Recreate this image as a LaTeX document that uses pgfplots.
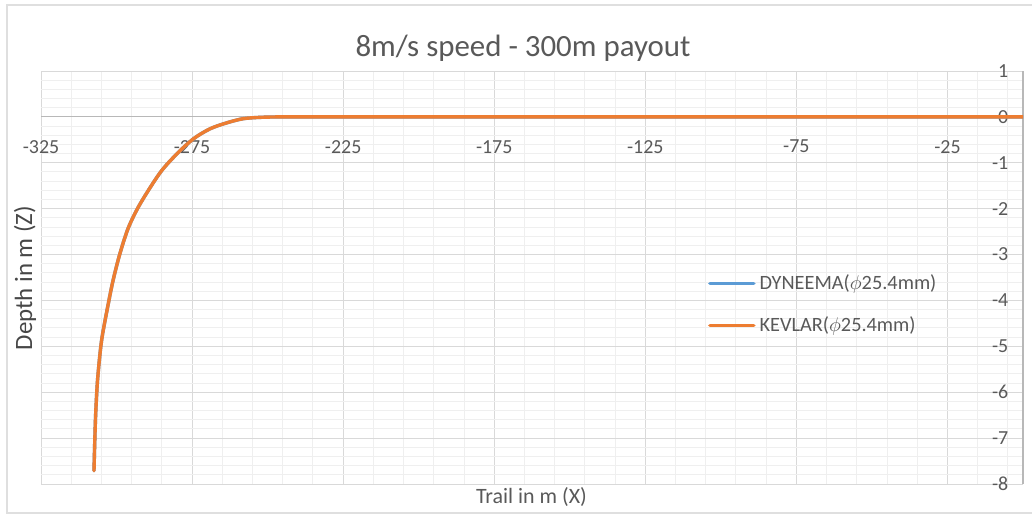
\documentclass[border=0pt]{standalone}
\usepackage{fontspec}
\setmainfont{Carlito}
\usepackage{pgfplots}
\pgfplotsset{compat=1.18}
\definecolor{txt}{HTML}{595959}
\definecolor{majgrid}{HTML}{D9D9D9}
\definecolor{mingrid}{HTML}{EFEFEF}
\definecolor{dyblue}{HTML}{5B9BD5}
\definecolor{kvorange}{HTML}{ED7D31}

\begin{document}
\begin{tikzpicture}
\useasboundingbox (0,0) rectangle (516bp,257bp);
\draw[gray!25, line width=1bp] (3.5bp,0.5bp) rectangle (520bp,254.5bp);
\begin{axis}[
  at={(20.5bp,15bp)}, anchor=south west,
  scale only axis, width=491bp, height=206.5bp,
  xmin=-325, xmax=0, ymin=-8, ymax=1,
  axis x line=middle, axis y line=right,
  axis line style={-, draw=majgrid!85!black, line width=0.6bp},
  xtick={-325,-275,...,-25},
  minor xtick={-315,-305,...,-5},
  ytick={-8,-7,...,1},
  minor y tick num=4,
  tick style={draw=none},
  grid=both,
  major grid style={draw=majgrid, line width=0.5bp},
  minor grid style={draw=mingrid, line width=0.5bp},
  /pgf/number format/assume math mode=true,
  ticklabel style={font=\fontsize{10}{12}\selectfont, text=txt},
  xticklabel style={anchor=north, yshift=-6bp},
  yticklabel style={anchor=east, xshift=-6bp},
  legend style={at={(rel axis cs:0.679,0.518)}, anchor=north west,
    draw=none, fill=none, font=\fontsize{10.2}{12}\selectfont, text=txt,
    row sep=8bp, inner sep=0pt, cells={anchor=west}},
  legend image code/.code={\draw[#1] (0bp,0bp) -- (22bp,0bp);},
  every axis plot/.append style={line width=1.7bp, line join=round, line cap=round},
]
% identical trajectories, orange lies over blue
\addplot[dyblue, smooth] coordinates {
  (-307.46,-7.71) (-307.23,-7.13) (-306.90,-6.47) (-306.30,-5.75)
  (-305.37,-5.10) (-304.61,-4.73) (-302.99,-4.16) (-301.17,-3.57)
  (-298.92,-2.99) (-296.11,-2.42) (-292.23,-1.90) (-285.62,-1.22)
  (-280.09,-0.81) (-274.59,-0.48) (-269.07,-0.26) (-263.54,-0.13)
  (-258.15,-0.04) (-252.5,-0.01) (-246,0) (-240,0) (-230,0)
  (-215,0) (-190,0) (-150,0) (-100,0) (-50,0) (0,0)
};
\addlegendentry{DYNEEMA($\phi$25.4mm)}
\addplot[kvorange, smooth] coordinates {
  (-307.46,-7.71) (-307.23,-7.13) (-306.90,-6.47) (-306.30,-5.75)
  (-305.37,-5.10) (-304.61,-4.73) (-302.99,-4.16) (-301.17,-3.57)
  (-298.92,-2.99) (-296.11,-2.42) (-292.23,-1.90) (-285.62,-1.22)
  (-280.09,-0.81) (-274.59,-0.48) (-269.07,-0.26) (-263.54,-0.13)
  (-258.15,-0.04) (-252.5,-0.01) (-246,0) (-240,0) (-230,0)
  (-215,0) (-190,0) (-150,0) (-100,0) (-50,0) (0,0)
};
\addlegendentry{KEVLAR($\phi$25.4mm)}
\end{axis}
\node[text=txt, font=\fontsize{15.5}{18}\selectfont] at (261.5bp,233bp) {8m/s speed - 300m payout};
\node[text=txt, font=\fontsize{11}{13}\selectfont] at (265.75bp,8.5bp) {Trail in m (X)};
\node[text=txt!80!black, font=\fontsize{12.5}{15}\selectfont, rotate=90] at (12.5bp,118bp) {Depth in m (Z)};
\end{tikzpicture}
\end{document}
